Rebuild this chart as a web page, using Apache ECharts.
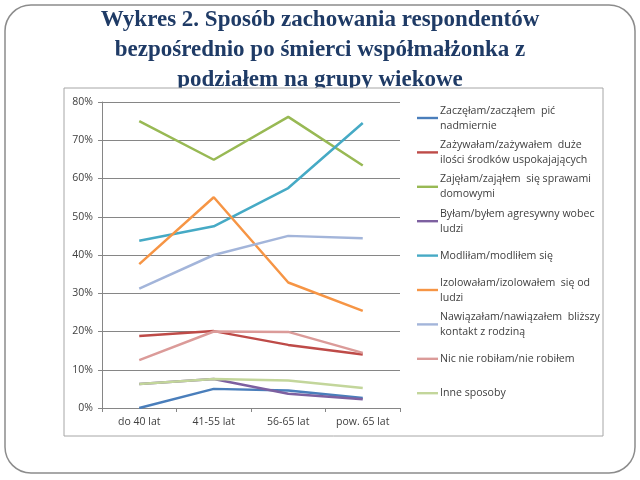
<!DOCTYPE html>
<html><head><meta charset="utf-8">
<script src="https://cdn.jsdelivr.net/npm/echarts@6/dist/echarts.min.js"></script>
<style>html,body{margin:0;padding:0;background:#fff}#c{width:640px;height:480px}</style>
</head><body><div id="c"></div>
<script>
const categories = ['do 40 lat', '41-55 lat', '56-65 lat', 'pow. 65 lat'];
const yTicks = ['0%', '10%', '20%', '30%', '40%', '50%', '60%', '70%', '80%'];
const seriesNames = [
  'Zaczęłam/zacząłem  pić\nnadmiernie',
  'Zażywałam/zażywałem  duże\nilości środków uspokajających',
  'Zajęłam/zająłem  się sprawami\ndomowymi',
  'Byłam/byłem agresywny wobec\nludzi',
  'Modliłam/modliłem się',
  'Izolowałam/izolowałem  się od\nludzi',
  'Nawiązałam/nawiązałem  bliższy\nkontakt z rodziną',
  'Nic nie robiłam/nie robiłem',
  'Inne sposoby'
];
const zaczelam   = [0, 5.0, 4.6, 2.6];
const zazywalam  = [18.8, 20.1, 16.5, 14.0];
const zajelam    = [75.0, 64.9, 76.1, 63.4];
const bylam      = [6.3, 7.6, 3.7, 2.3];
const modlilam   = [43.7, 47.5, 57.5, 74.5];
const izolowalam = [37.6, 55.1, 32.8, 25.4];
const nawiazalam = [31.2, 40.0, 45.0, 44.4];
const nicNie     = [12.5, 20.0, 19.9, 14.4];
const inne       = [6.3, 7.6, 7.2, 5.2];
const seriesValues = [zaczelam, zazywalam, zajelam, bylam, modlilam, izolowalam, nawiazalam, nicNie, inne];
const colors = ['#4A7EBB', '#BE4B48', '#98B954', '#7D60A0', '#46AAC5', '#F69545', '#A3B5DA', '#DB9B99', '#C3D69B'];

const chart = echarts.init(document.getElementById('c'), null, {renderer: 'canvas'});
const legendTop0 = 118, legendStep = 34.4, lh = 15;
const legends = seriesNames.map((n, i) => {
  const two = n.indexOf('\n') >= 0;
  return {
    show: true, orient: 'vertical', left: 417, padding: 0, z: 130,
    top: legendTop0 + i * legendStep - (two ? lh * 1.5 : lh / 2),
    itemWidth: 21, itemHeight: lh,
    data: [{name: n, icon: 'path://M0,0L22,0L22,2.5L0,2.5Z'}],
    selectedMode: false,
    itemGap: 0,
    textStyle: {fontFamily: 'Open Sans, Liberation Sans, sans-serif', fontSize: 10.6, color: '#404040', lineHeight: lh, padding: two ? [lh, 0, 0, -3] : [0, 0, 0, -3]}
  };
});
chart.setOption({
  animation: false,
  color: colors,
  title: {
    text: 'Wykres 2. Sposób zachowania respondentów\nbezpośrednio po śmierci współmałżonka z\npodziałem na grupy wiekowe',
    left: 'center', top: 5, padding: 0,
    textStyle: {fontFamily: 'Liberation Serif, Times New Roman, serif', fontWeight: 'bold', fontSize: 23, color: '#1F3B66', lineHeight: 30}
  },
  graphic: [
    {type: 'rect', z: -10, shape: {x: 5, y: 5, width: 630, height: 468, r: 26}, style: {fill: '#fff', stroke: '#8C8C8C', lineWidth: 1.5}},
    {type: 'rect', z: 100, shape: {x: 64, y: 88, width: 539, height: 348}, style: {fill: '#fff', stroke: '#A6A6A6', lineWidth: 1}, silent: true}
  ],
  legend: legends,
  grid: {left: 102, right: 240, top: 102, bottom: 72, containLabel: false, z: 110},
  xAxis: {
    type: 'category', data: categories, boundaryGap: true, z: 110,
    axisLine: {lineStyle: {color: '#868686', width: 1}},
    axisTick: {show: true, inside: false, length: 4, lineStyle: {color: '#868686'}},
    axisLabel: {color: '#404040', fontFamily: 'Open Sans, Liberation Sans, sans-serif', fontSize: 10.5, margin: 9}
  },
  yAxis: {
    type: 'value', min: 0, max: 80, interval: 10, z: 110,
    axisLine: {show: true, lineStyle: {color: '#868686', width: 1}},
    axisTick: {show: true, length: 4, lineStyle: {color: '#868686'}},
    axisLabel: {color: '#404040', fontFamily: 'Open Sans, Liberation Sans, sans-serif', fontSize: 10.5, margin: 9,
      formatter: (v) => yTicks[Math.round(v / 10)]},
    splitLine: {show: true, lineStyle: {color: '#868686', width: 1}}
  },
  series: seriesNames.map((n, i) => ({
    name: n, type: 'line', data: seriesValues[i], symbol: 'none', z: 120,
    lineStyle: {width: 2.5, color: colors[i]}, itemStyle: {color: colors[i]}
  }))
});
</script></body></html>
